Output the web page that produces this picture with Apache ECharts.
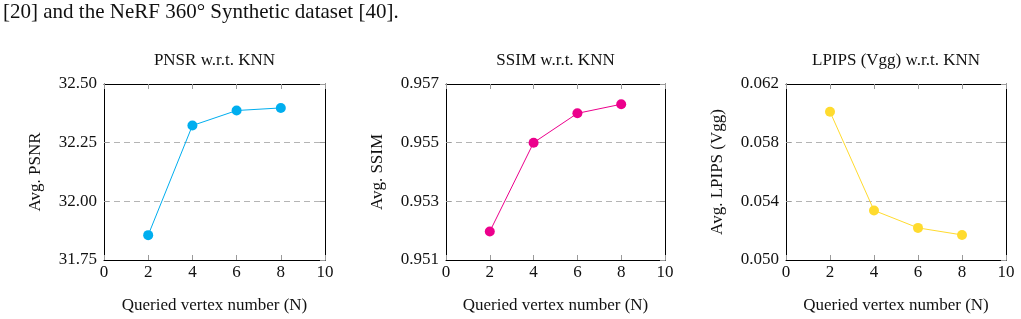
<!DOCTYPE html>
<html>
<head>
<meta charset="utf-8">
<script src="https://cdn.jsdelivr.net/npm/echarts@6/dist/echarts.min.js"></script>
<style>
html,body{margin:0;padding:0;background:#fff;}
#c{width:1021px;height:319px;}
</style>
</head>
<body>
<div id="c"></div>
<script>
// ---- data ----
const vertexN = [2, 4, 6, 8];
const psnr = [31.856, 32.323, 32.387, 32.398];
const ssim = [0.95197, 0.95500, 0.95600, 0.95631];
const lpips = [0.06011, 0.05338, 0.05219, 0.05171];

const titles = ['PNSR w.r.t. KNN', 'SSIM w.r.t. KNN', 'LPIPS (Vgg) w.r.t. KNN'];
const yNames = ['Avg. PSNR', 'Avg. SSIM', 'Avg. LPIPS (Vgg)'];
const xName = 'Queried vertex number (N)';
const xTicks = {min: 0, max: 10, interval: 2};
const yTicks = [
  {min: 31.75, max: 32.50, interval: 0.25, digits: 2},
  {min: 0.951, max: 0.957, interval: 0.002, digits: 3},
  {min: 0.050, max: 0.062, interval: 0.004, digits: 3}
];
const colors = ['#00AEEF', '#EC008C', '#FFDB2E'];
const caption = '[20] and the NeRF 360\u00B0 Synthetic dataset [40].';

// ---- layout ----
const FONT = '"Liberation Serif", "DejaVu Serif", serif';
const grids = [
  {left: 104, right: 1021 - 325, top: 84, bottom: 319 - 261},
  {left: 446, right: 1021 - 665, top: 84, bottom: 319 - 261},
  {left: 786, right: 1021 - 1006, top: 84, bottom: 319 - 261}
];
const seriesData = [psnr, ssim, lpips];

const option = {
  animation: false,
  backgroundColor: '#fff',
  grid: grids.map(g => Object.assign({containLabel: false}, g)),
  xAxis: [],
  yAxis: [],
  series: [],
  graphic: []
};

const tickStyle = {show: true, inside: true, length: 5, lineStyle: {color: '#9a9a9a', width: 1}};
const lineBlack = {show: true, onZero: false, lineStyle: {color: '#000', width: 1}};

grids.forEach((g, i) => {
  // bottom x
  option.xAxis.push({
    type: 'value', gridIndex: i, position: 'bottom', z: 3,
    min: xTicks.min, max: xTicks.max, interval: xTicks.interval,
    name: xName, nameLocation: 'middle', nameGap: 37,
    nameTextStyle: {fontFamily: FONT, fontSize: 17, color: '#111'},
    axisLine: lineBlack, axisTick: tickStyle,
    axisLabel: {fontFamily: FONT, fontSize: 17, color: '#111', margin: 4},
    splitLine: {show: false}
  });
  // top x (ticks only)
  option.xAxis.push({
    type: 'value', gridIndex: i, position: 'top', z: 3,
    min: xTicks.min, max: xTicks.max, interval: xTicks.interval,
    axisLine: lineBlack, axisTick: tickStyle,
    axisLabel: {show: false}, splitLine: {show: false}
  });
  const yt = yTicks[i];
  option.yAxis.push({
    type: 'value', gridIndex: i, position: 'left', z: 1,
    min: yt.min, max: yt.max, interval: yt.interval,
    name: yNames[i], nameLocation: 'middle', nameGap: 60,
    nameTextStyle: {fontFamily: FONT, fontSize: 17, color: '#111'},
    axisLine: lineBlack, axisTick: tickStyle,
    axisLabel: {fontFamily: FONT, fontSize: 17, color: '#111', margin: 7,
      formatter: v => v.toFixed(yt.digits)},
    splitLine: {show: true, lineStyle: {color: '#b4b4b4', width: 1, type: [6, 4]}}
  });
  option.yAxis.push({
    type: 'value', gridIndex: i, position: 'right', z: 3,
    min: yt.min, max: yt.max, interval: yt.interval,
    axisLine: lineBlack, axisTick: tickStyle,
    axisLabel: {show: false}, splitLine: {show: false}
  });
  option.series.push({
    type: 'line', xAxisIndex: i * 2, yAxisIndex: i * 2, z: 5,
    data: vertexN.map((n, k) => [n, seriesData[i][k]]),
    symbol: 'circle', symbolSize: 10,
    lineStyle: {color: colors[i], width: 1},
    itemStyle: {color: colors[i]}
  });
  option.graphic.push({
    type: 'text', x: (g.left + (1021 - g.right)) / 2, y: 61,
    style: {text: titles[i], font: '17px ' + FONT, fill: '#111', align: 'center', verticalAlign: 'middle'}
  });
});
option.graphic.push({
  type: 'text', x: 3, y: 12.5,
  style: {text: caption, font: '21px ' + FONT, fill: '#111', align: 'left', verticalAlign: 'middle'}
});

const chart = echarts.init(document.getElementById('c'), null, {renderer: 'canvas'});
chart.setOption(option);
</script>
</body>
</html>
